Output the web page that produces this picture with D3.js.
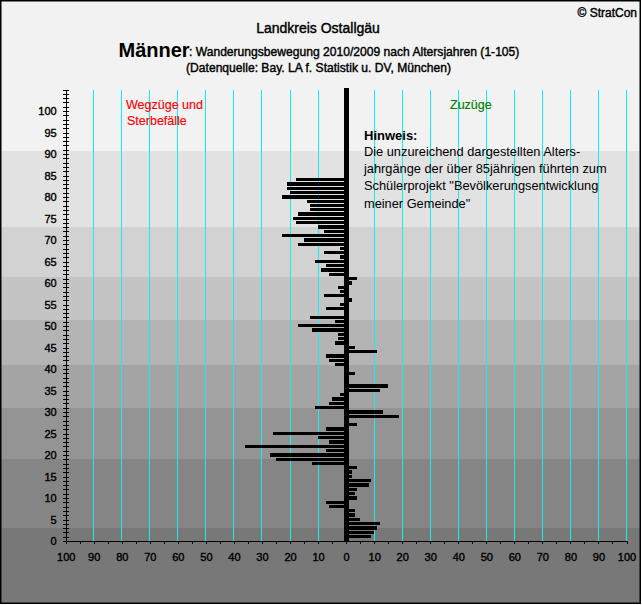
<!DOCTYPE html>
<html>
<head>
<meta charset="utf-8">
<script src="https://cdn.jsdelivr.net/npm/d3@7"></script>
<style>
html, body { margin: 0; padding: 0; background: #fff; }
svg { display: block; }
text { font-family: "Liberation Sans", Arial, sans-serif; }
</style>
</head>
<body>
<div id="chart"></div>
<script>
// Altersjahre 1 bis 84
const ages = d3.range(1, 85);
const wegzuege = [
	0,0,0,0,0,0,0,6,7,0, 0,0,0,0,0,0,0,12,25,27,
	7,36,6,10,26,7,0,0,0,0, 11,6,5,2,0,0,0,0,0,0,
	4,6,7,0,0,4,3,3,12,17, 4,13,0,7,2,0,8,2,3,0,
	0,6,9,7,11,2,8,2,17,15, 23,8,10,18,19,17,13,13,14,23,
	20,21,21,18
];
const zuzuege = [
	9,10,11,12,5,3,3,0,0,4, 3,4,8,9,2,2,4,0,0,0,
	0,0,0,0,0,0,4,0,19,13, 0,0,0,0,12,15,0,0,3,0,
	0,0,0,11,3,0,0,0,0,0, 0,0,0,0,0,2,0,0,0,2,
	4,0,0,0,0,0,0,0,0,0, 0,0,0,0,0,0,0,0,0,0,
	0,0,0,0
];
const xTicks = d3.range(-100, 101, 10);
const bandAges = [105, 90.7, 73, 61.5, 51.5, 41, 31, 19, 3];
const bandColors = ["#f2f2f2", "#e2e2e2", "#d2d2d2", "#c4c4c4", "#b4b4b4", "#a4a4a4", "#949494", "#858585", "#787878"];
const noteLines = [
	"Die unzureichend dargestellten Alters-",
	"jahrgänge der über 85jährigen führten zum",
	"Schülerprojekt \"Bevölkerungsentwicklung",
	"meiner Gemeinde\""
];

const width = 641;
const height = 604;
const x = d3.scaleLinear().domain([-100, 100]).range([65.7, 626.5]);
const y = d3.scaleLinear().domain([0, 105]).range([541, 89.5]);

const svg = d3.select("#chart")
	.append("svg")
	.attr("width", 642)
	.attr("height", 605);

// Hintergrundstufen
svg.selectAll(".band")
	.data(bandAges)
	.enter()
	.append("rect")
	.attr("class", "band")
	.attr("x", 0)
	.attr("width", width)
	.attr("y", function(d, i) { return i == 0 ? 0 : y(d); })
	.attr("height", function(d, i) {
		return i == bandAges.length - 1 ? height - y(d) : y(bandAges[i + 1]) - (i == 0 ? 0 : y(d));
	})
	.attr("fill", function(d, i) { return bandColors[i]; })
	.attr("shape-rendering", "crispEdges");

// Rahmen
svg.append("rect")
	.attr("x", 0.75)
	.attr("y", 0.75)
	.attr("width", 639.5)
	.attr("height", 602.5)
	.attr("fill", "none")
	.attr("stroke", "#000")
	.attr("stroke-width", 1.5);

// Gitternetz
svg.selectAll(".grid")
	.data(xTicks.filter(function(d) { return d != 0 && d != -100; }))
	.enter()
	.append("line")
	.attr("class", "grid")
	.attr("x1", function(d) { return x(d); })
	.attr("x2", function(d) { return x(d); })
	.attr("y1", y(105))
	.attr("y2", y(0))
	.attr("stroke", "#10f0f0")
	.attr("stroke-width", 1)
	.attr("shape-rendering", "crispEdges");

// Balken, immer 1px Luft zum naechsten Jahrgang
function barTop(age) { return Math.round(y(age) - 1.8); }
function barHeight(age) { return barTop(age - 1) - 1 - barTop(age); }

svg.selectAll(".left")
	.data(ages)
	.enter()
	.append("rect")
	.attr("class", "left")
	.attr("x", function(d, i) { return x(-wegzuege[i]); })
	.attr("y", function(d) { return barTop(d); })
	.attr("width", function(d, i) { return x(0) - x(-wegzuege[i]); })
	.attr("height", function(d) { return barHeight(d); })
	.attr("shape-rendering", "crispEdges");
svg.selectAll(".right")
	.data(ages)
	.enter()
	.append("rect")
	.attr("class", "right")
	.attr("x", x(0))
	.attr("y", function(d) { return barTop(d); })
	.attr("width", function(d, i) { return x(zuzuege[i]) - x(0); })
	.attr("height", function(d) { return barHeight(d); })
	.attr("shape-rendering", "crispEdges");

// Mittelachse
svg.append("rect")
	.attr("x", x(0) - 2.5)
	.attr("y", 88)
	.attr("width", 5)
	.attr("height", y(0) - 88)
	.attr("shape-rendering", "crispEdges");

// Achsen
const xAxis = svg.append("g")
	.attr("transform", "translate(0," + y(0) + ")")
	.call(d3.axisBottom(x)
		.tickValues(d3.range(-100, 101, 5))
		.tickSize(3)
		.tickFormat(function(d) { return d % 10 == 0 ? Math.abs(d) : ""; }));
xAxis.selectAll("text")
	.attr("y", 12)
	.attr("font-size", "11px")
	.attr("font-family", "Liberation Sans")
	.attr("fill", "#000")
	.attr("stroke", "#000")
	.attr("stroke-width", 0.4);

const yAxis = svg.append("g")
	.attr("transform", "translate(" + x(-100) + ",0)")
	.call(d3.axisLeft(y)
		.tickValues(d3.range(0, 106))
		.tickSize(3)
		.tickFormat(function(d) { return d % 5 == 0 && d <= 100 ? d : ""; }));
yAxis.selectAll("text")
	.attr("x", -9)
	.attr("font-size", "11px")
	.attr("font-family", "Liberation Sans")
	.attr("fill", "#000")
	.attr("stroke", "#000")
	.attr("stroke-width", 0.4);
yAxis.selectAll(".tick line").attr("x2", 3).attr("x1", -3);
svg.selectAll(".domain").attr("stroke", "#000");
svg.selectAll(".tick line, .domain").attr("shape-rendering", "crispEdges");

// Texte
function label(txt, px, py, size, opts) {
	opts = opts || {};
	const t = svg.append("text")
		.attr("x", px)
		.attr("y", py)
		.attr("font-size", size + "px")
		.attr("font-weight", opts.weight || "normal")
		.attr("text-anchor", opts.anchor || "start")
		.attr("fill", opts.fill || "#000")
		.text(txt);
	if (opts.heavy) t.attr("stroke", opts.fill || "#000").attr("stroke-width", opts.heavy);
	return t;
}
label("© StratCon", 637, 17, 12, { anchor: "end", heavy: 0.4 });
label("Landkreis Ostallgäu", 318, 33, 14, { anchor: "middle", heavy: 0.4 });
label("Männer", 118.5, 57, 20, { weight: "bold" });
label(": Wanderungsbewegung 2010/2009 nach Altersjahren (1-105)", 189, 56, 12.1, { heavy: 0.4 });
label("(Datenquelle: Bay. LA f. Statistik u. DV, München)", 318.5, 72, 12.1, { anchor: "middle", heavy: 0.4 });
label("Wegzüge und", 126, 109, 12.5, { fill: "#ff0000", heavy: 0.15 });
label("Sterbefälle", 127, 125, 12.5, { fill: "#ff0000", heavy: 0.15 });
label("Zuzüge", 450, 109, 12.5, { fill: "#008000", heavy: 0.15 });
label("Hinweis:", 364, 140, 13, { weight: "bold" });
noteLines.forEach(function(d, i) {
	label(d, 364, 156 + i * 17.2, 12.8);
});
</script>
</body>
</html>
